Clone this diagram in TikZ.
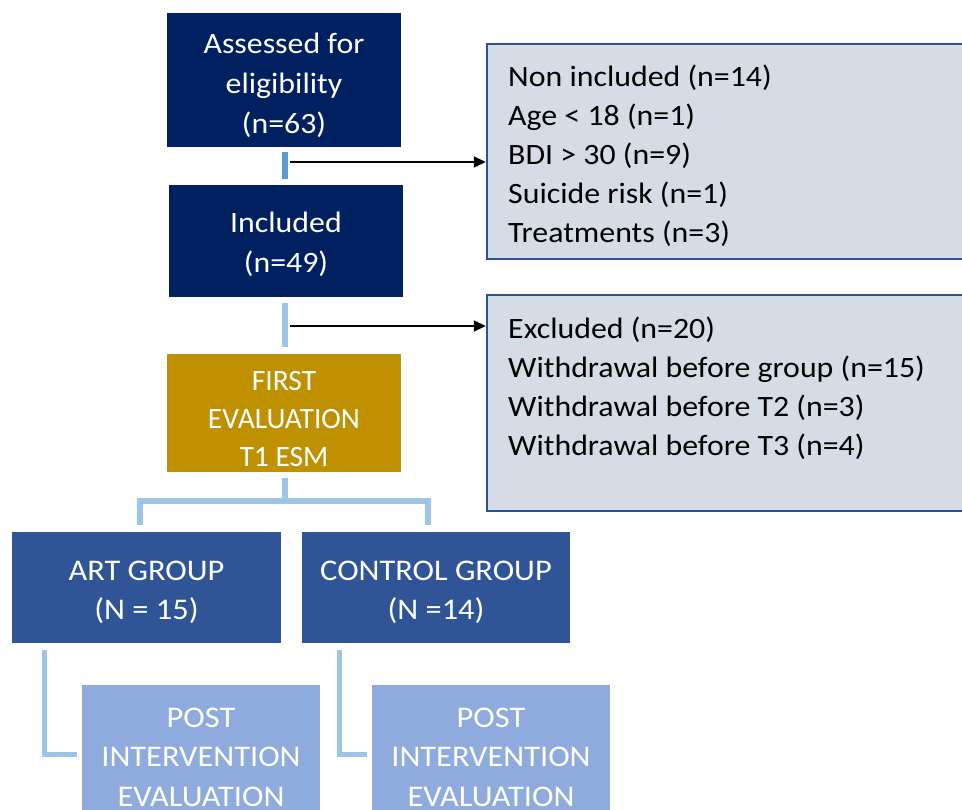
\documentclass[tikz,border=0pt]{standalone}
\usepackage{fontspec}
\setmainfont{Carlito}[FakeStretch=1.08]
\newfontfamily\plainfont{Carlito}
\usetikzlibrary{arrows.meta}
\definecolor{navy}{HTML}{002060}
\definecolor{gold}{HTML}{BF9000}
\definecolor{groupblue}{HTML}{2F5597}
\definecolor{postblue}{HTML}{8FAADC}
\definecolor{listfill}{HTML}{D6DCE5}
\definecolor{listline}{HTML}{2F528F}
\definecolor{barmid}{HTML}{5B9BD5}
\definecolor{barlight}{HTML}{9DC3E6}
% invisible strut that pushes a box's text down
\newcommand{\lift}[1]{\rule{0pt}{#1}}

\begin{document}
\begin{tikzpicture}[x=1pt, y=-1pt, >={Triangle[length=12pt,width=11pt]},
  darkbox/.style={rectangle, fill=navy, text=white, minimum width=234pt, align=center,
    font=\fontsize{29.5}{40}\selectfont},
  goldbox/.style={rectangle, fill=gold, text=white, minimum width=234pt, minimum height=118pt,
    align=center, font=\plainfont\fontsize{29.5}{38}\selectfont},
  groupbox/.style={rectangle, fill=groupblue, text=white, minimum height=111pt, align=center,
    font=\fontsize{30}{39}\selectfont},
  postbox/.style={rectangle, fill=postblue, text=white, minimum width=238pt, minimum height=144pt,
    align=center, font=\fontsize{30}{39.5}\selectfont},
  listbox/.style={rectangle, fill=listfill, draw=listline, line width=2.5pt, minimum width=503pt},
  listtext/.style={anchor=north west, inner sep=0pt, align=left,
    font=\fontsize{29.5}{39}\selectfont},
  linkA/.style={barmid, line width=6pt},
  linkB/.style={barlight, line width=5.5pt},
  tap/.style={->, black, line width=2pt},
]
  \useasboundingbox (0,0) rectangle (962,810);
  \clip (0,0) rectangle (962,810);

  % flow down the left
  \node[darkbox, minimum height=134pt] (assess) at (284,80) {\lift{31pt}Assessed for\\eligibility\\(n=63)};
  \node[darkbox, minimum height=112pt] (incl) at (286,241) {\lift{27pt}Included\\(n=49)};
  \node[goldbox] (first) at (284,413) {\lift{31pt}FIRST\\EVALUATION\\T1 ESM};
  \node[groupbox, minimum width=269pt] (art) at (146.5,587.5) {\lift{29pt}ART GROUP\\(N = 15)};
  \node[groupbox, minimum width=268pt] (ctrl) at (436,587.5) {\lift{29pt}CONTROL GROUP\\(N =14)};
  \node[postbox] (postart) at (201,757) {POST\\INTERVENTION\\EVALUATION};
  \node[postbox] (postctrl) at (491,757) {POST\\INTERVENTION\\EVALUATION};

  % side boxes
  \node[listbox, minimum height=215pt] (nonincl) at (738.5,151.5) {};
  \node[listtext] (nonincltxt) at (508,65)
    {Non included (n=14)\\Age < 18 (n=1)\\BDI > 30 (n=9)\\Suicide risk (n=1)\\Treatments (n=3)};
  \node[listbox, minimum height=216pt] (excl) at (738.5,403) {};
  \node[listtext] (excltxt) at (508,317)
    {Excluded (n=20)\\Withdrawal before group (n=15)\\Withdrawal before T2 (n=3)\\Withdrawal before T3 (n=4)};

  % connectors
  \coordinate (bar1top) at (285,152);
  \coordinate (bar1bot) at (285,179);
  \coordinate (bar2top) at (285,303);
  \coordinate (bar2bot) at (285,347);
  \coordinate (tap1) at (290,162);
  \coordinate (tap2) at (290,326);
  \coordinate (forktop) at (285,478);
  \coordinate (fork) at (285,501);
  \coordinate (artleg) at (140,525);
  \coordinate (ctrlleg) at (428,525);
  \coordinate (artdrop) at (44.5,650);
  \coordinate (artfoot) at (77,754.5);
  \coordinate (ctrldrop) at (339.5,650);
  \coordinate (ctrlfoot) at (367,754.5);

  \draw[linkA] (bar1top) -- (bar1bot);
  \draw[linkB] (bar2top) -- (bar2bot);
  \draw[tap] (tap1) -- (tap1 -| nonincl.west);
  \draw[tap] (tap2) -- (tap2 -| excl.west);
  \draw[linkB] (forktop) -- (fork);
  \draw[linkB] (artleg) |- (fork) -| (ctrlleg);
  \draw[linkB] (artdrop) |- (artfoot);
  \draw[linkB] (ctrldrop) |- (ctrlfoot);
\end{tikzpicture}
\end{document}
